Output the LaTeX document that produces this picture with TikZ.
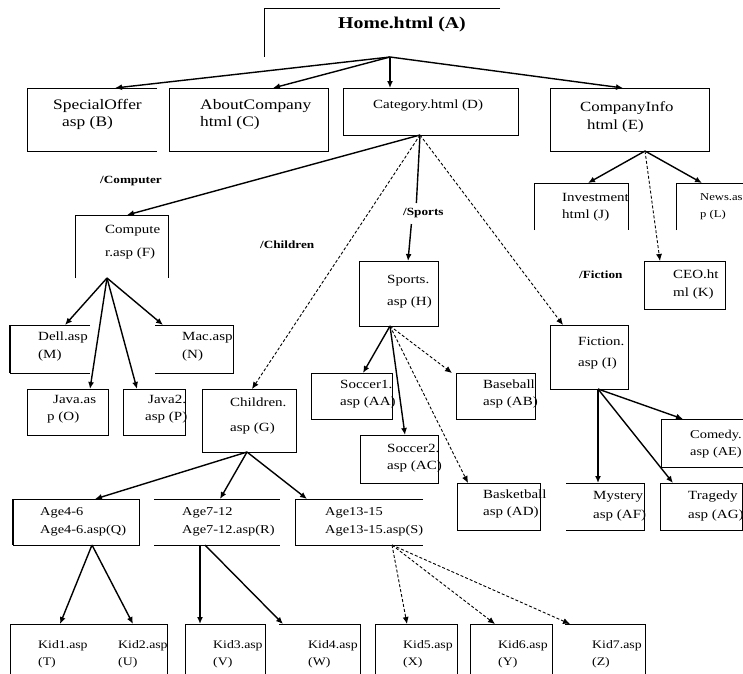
\documentclass[tikz,border=0pt]{standalone}
\usepackage{fontspec}
\setmainfont{Liberation Serif}[FakeStretch=1.2]
\usetikzlibrary{arrows.meta}
\begin{document}
\begin{tikzpicture}[x=1pt,y=-1pt,
 box/.style={draw, line width=0.9pt, inner sep=0pt, outer sep=0pt, anchor=north west},
 obox/.style={inner sep=0pt, outer sep=0pt, anchor=north west},
 brd/.style={line width=0.9pt},
 edg/.style={line width=1.4pt, -{Latex[length=7pt,width=6pt]}},
 dedg/.style={line width=0.9pt, densely dashed, -{Latex[length=7pt,width=6pt]}},
 txt/.style={inner sep=0pt, anchor=north west, align=left, font=\fontsize{12.5}{17}\selectfont},
 btxt/.style={txt, font=\fontsize{14.5}{17}\selectfont},
 atxt/.style={txt, font=\fontsize{12}{18}\selectfont},
 ktxt/.style={txt, font=\fontsize{11.5}{17}\selectfont},
 lbl/.style={inner sep=0pt, anchor=west, font=\bfseries\fontsize{11}{12}\selectfont}]
\useasboundingbox (0,0) rectangle (743,673);
% ---------- boxes ----------
\node[obox, minimum width=236pt, minimum height=49pt] (A) at (264,8) {};
\draw[brd] (A.north east) -- (A.north west) -- (A.south west);
\node[obox, minimum width=130pt, minimum height=63pt] (B) at (27,88) {};
\draw[brd] (B.north east) -- (B.north west) -- (B.south west) -- (B.south east);
\node[box, minimum width=159pt, minimum height=63pt] (C) at (169,88) {};
\node[box, minimum width=175pt, minimum height=47pt] (D) at (343,88) {};
\node[box, minimum width=159pt, minimum height=63pt] (E) at (550,88) {};
\node[obox, minimum width=93pt, minimum height=63pt] (F) at (75,215) {};
\draw[brd] (F.south west) -- (F.north west) -- (F.north east) -- (F.south east);
\node[obox, minimum width=94pt, minimum height=47pt] (J) at (534,183) {};
\draw[brd] (J.south west) -- (J.north west) -- (J.north east) -- (J.south east);
\node[obox, minimum width=74pt, minimum height=47pt] (L) at (676,183) {};
\draw[brd] (L.south west) -- (L.north west) -- (L.north east);
\node[box, minimum width=81pt, minimum height=48pt] (K) at (644,261) {};
\node[box, minimum width=79pt, minimum height=65pt] (H) at (359,261) {};
\node[obox, minimum width=80pt, minimum height=48pt] (M) at (10,325) {};
\draw[brd] (M.north east) -- (M.north west) -- (M.south west) -- (M.south east);
\draw[line width=1.6pt] (M.north west) -- (M.south west);
\node[obox, minimum width=78pt, minimum height=48pt] (N) at (155,325) {};
\draw[brd] (N.north west) -- (N.north east) -- (N.south east) -- (N.south west);
\node[box, minimum width=81pt, minimum height=46pt] (O) at (27,389) {};
\node[box, minimum width=62pt, minimum height=46pt] (P) at (123,389) {};
\node[box, minimum width=94pt, minimum height=63pt] (G) at (202,389) {};
\node[box, minimum width=81pt, minimum height=46pt] (AA) at (311,373) {};
\node[box, minimum width=79pt, minimum height=46pt] (AB) at (456,373) {};
\node[box, minimum width=78pt, minimum height=48pt] (AC) at (360,435) {};
\node[box, minimum width=83pt, minimum height=47pt] (AD) at (457,483) {};
\node[box, minimum width=78pt, minimum height=64pt] (I) at (550,325) {};
\node[box, minimum width=84pt, minimum height=48pt] (AE) at (661,419) {};
\node[obox, minimum width=78pt, minimum height=47pt] (AF) at (566,483) {};
\draw[brd] (AF.north west) -- (AF.north east) -- (AF.south east) -- (AF.south west);
\node[box, minimum width=82pt, minimum height=47pt] (AG) at (660,483) {};
\node[box, minimum width=126pt, minimum height=46pt] (Q) at (13,499) {};
\draw[line width=1.6pt] (Q.north west) -- (Q.south west);
\node[obox, minimum width=126pt, minimum height=46pt] (R) at (154,499) {};
\draw[brd] (R.north west) -- (R.north east) (R.south west) -- (R.south east);
\node[obox, minimum width=128pt, minimum height=46pt] (S) at (295,499) {};
\draw[brd] (S.north east) -- (S.north west) -- (S.south west) -- (S.south east);
\node[obox, minimum width=157pt, minimum height=50pt] (TU) at (10,624) {};
\draw[brd] (TU.south west) -- (TU.north west) -- (TU.north east) -- (TU.south east);
\node[obox, minimum width=80pt, minimum height=50pt] (V) at (185,624) {};
\draw[brd] (V.south west) -- (V.north west) -- (V.north east) -- (V.south east);
\node[obox, minimum width=81pt, minimum height=50pt] (W) at (279,624) {};
\draw[brd] (W.north west) -- (W.north east) -- (W.south east);
\node[obox, minimum width=82pt, minimum height=50pt] (X) at (375,624) {};
\draw[brd] (X.south west) -- (X.north west) -- (X.north east) -- (X.south east);
\node[obox, minimum width=82pt, minimum height=50pt] (Y) at (470,624) {};
\draw[brd] (Y.south west) -- (Y.north west) -- (Y.north east) -- (Y.south east);
\node[obox, minimum width=80pt, minimum height=50pt] (Z) at (565,624) {};
\draw[brd] (Z.north west) -- (Z.north east) -- (Z.south east);
% ---------- texts ----------
\node[inner sep=0pt, anchor=north west, font=\bfseries\fontsize{16.5}{18}\selectfont] (At) at (338,17) {Home.html (A)};
\node[btxt] (Bt) at (53,99) {SpecialOffer\\\hspace*{9pt}asp (B)};
\node[btxt] (Ct) at (200,99) {AboutCompany\\html (C)};
\node[txt] (Dt) at (373,100) {Category.html (D)};
\node[btxt, font=\fontsize{14}{18}\selectfont] (Et) at (580,101) {CompanyInfo\\\hspace*{7pt}html (E)};
\node[txt, font=\fontsize{12.5}{23}\selectfont] (Ft) at (105,225) {Compute\\r.asp (F)};
\node[txt] (Jt) at (562,193) {Investment\\html (J)};
\node[txt, font=\fontsize{10.5}{17}\selectfont] (Lt) at (700,193) {News.as\\p (L)};
\node[txt, font=\fontsize{12.5}{18}\selectfont] (Kt) at (673,270) {CEO.ht\\ml (K)};
\node[txt, font=\fontsize{12.5}{22}\selectfont] (Ht) at (387,275) {Sports.\\asp (H)};
\node[txt, font=\fontsize{12.5}{18}\selectfont] (Mt) at (38,332) {Dell.asp\\(M)};
\node[txt, font=\fontsize{12.5}{18}\selectfont] (Nt) at (182,332) {Mac.asp\\(N)};
\node[txt] (Ot) at (53,395) {Java.as\\\hspace*{-6pt}p (O)};
\node[txt] (Pt) at (148,395) {Java2.\\\hspace*{-3pt}asp (P)};
\node[txt, font=\fontsize{12.5}{25}\selectfont] (Gt) at (230,398) {Children.\\asp (G)};
\node[txt] (AAt) at (340,380) {Soccer1.\\asp (AA)};
\node[txt] (ABt) at (483,380) {Baseball\\asp (AB)};
\node[txt] (ACt) at (387,444) {Soccer2.\\asp (AC)};
\node[txt] (ADt) at (483,490) {Basketball\\asp (AD)};
\node[txt, font=\fontsize{12.5}{21}\selectfont] (It) at (578,337) {Fiction.\\asp (I)};
\node[txt, font=\fontsize{12}{17}\selectfont] (AEt) at (690,430) {Comedy.\\asp (AE)};
\node[txt, font=\fontsize{12.5}{19}\selectfont] (AFt) at (593,491) {Mystery\\asp (AF)};
\node[txt, font=\fontsize{12.5}{19}\selectfont] (AGt) at (688,491) {Tragedy\\asp (AG)};
\node[atxt] (Qt) at (40,507) {Age4-6\\Age4-6.asp(Q)};
\node[atxt] (Rt) at (182,507) {Age7-12\\Age7-12.asp(R)};
\node[atxt] (St) at (325,507) {Age13-15\\Age13-15.asp(S)};
\node[ktxt] (T) at (38,640) {Kid1.asp\\(T)};
\node[ktxt] (U) at (118,640) {Kid2.asp\\(U)};
\node[ktxt] (Vt) at (213,640) {Kid3.asp\\(V)};
\node[ktxt] (Wt) at (308,640) {Kid4.asp\\(W)};
\node[ktxt] (Xt) at (403,640) {Kid5.asp\\(X)};
\node[ktxt] (Yt) at (498,640) {Kid6.asp\\(Y)};
\node[ktxt] (Zt) at (592,640) {Kid7.asp\\(Z)};
% ---------- path labels ----------
\node[lbl] (CompL) at (100,181) {/Computer};
\node[lbl] (ChilL) at (260,245) {/Children};
\node[lbl] (SpL) at (403,213) {/Sports};
\node[lbl] (FicL) at (579,275) {/Fiction};
% ---------- source points ----------
\coordinate (Ao) at ([xshift=126pt]A.south west);
\coordinate (Do) at ([xshift=77pt]D.south west);
\coordinate (Eo) at ([xshift=95pt]E.south west);
\coordinate (Fo) at ([xshift=32pt]F.south west);
\coordinate (Ho) at ([xshift=31pt]H.south west);
\coordinate (Io) at ([xshift=48pt]I.south west);
\coordinate (Go) at ([xshift=45pt]G.south west);
\coordinate (Qo) at ([xshift=79pt]Q.south west);
\coordinate (Ro) at ([xshift=46pt]R.south west);
\coordinate (So) at ([xshift=97pt]S.south west);
% ---------- connectors ----------
\draw[edg] (Ao) -- ([xshift=88pt]B.north west);
\draw[edg] (Ao) -- ([xshift=104pt]C.north west);
\draw[edg] (Ao) -- ([xshift=47pt]D.north west);
\draw[edg] (Ao) -- ([xshift=73pt]E.north west);
\draw[edg] (Do) -- ([xshift=52pt]F.north west);
\draw[dedg] (Do) -- ([xshift=50pt]G.north west);
\draw[line width=1.4pt] (Do) -- ([xshift=-7pt,yshift=5pt]SpL.north);
\draw[edg] ([xshift=-12pt,yshift=-6pt]SpL.south) -- ([xshift=49pt]H.north west);
\draw[dedg] (Do) -- ([xshift=13pt]I.north west);
\draw[edg] (Eo) -- ([xshift=54pt]J.north west);
\draw[dedg] (Eo) -- ([xshift=16pt]K.north west);
\draw[edg] (Eo) -- ([xshift=26pt]L.north west);
\draw[edg] (Fo) -- ([xshift=55pt]M.north west);
\draw[edg] (Fo) -- ([xshift=63pt]O.north west);
\draw[edg] (Fo) -- ([xshift=14pt]P.north west);
\draw[edg] (Fo) -- ([xshift=8pt]N.north west);
\draw[edg] (Ho) -- ([xshift=52pt]AA.north west);
\draw[edg] (Ho) -- ([xshift=45pt]AC.north west);
\draw[dedg] (Ho) -- ([xshift=-4pt]AB.north west);
\draw[dedg] (Ho) -- ([xshift=11pt]AD.north west);
\draw[edg] (Io) -- ([xshift=22pt]AE.north west);
\draw[edg] (Io) -- ([xshift=32pt]AF.north west);
\draw[edg] (Io) -- ([xshift=13pt]AG.north west);
\draw[edg] (Go) -- ([xshift=82pt]Q.north west);
\draw[edg] (Go) -- ([xshift=66pt]R.north west);
\draw[edg] (Go) -- ([xshift=12pt]S.north west);
\draw[edg] (Qo) -- ([xshift=50pt]TU.north west);
\draw[edg] (Qo) -- ([xshift=123pt]TU.north west);
\draw[edg] (Ro) -- ([xshift=15pt]V.north west);
\draw[edg] ([xshift=5pt]Ro) -- ([xshift=4pt]W.north west);
\draw[dedg] (So) -- ([xshift=32pt]X.north west);
\draw[dedg] (So) -- ([xshift=25pt]Y.north west);
\draw[dedg] (So) -- ([xshift=5pt]Z.north west);
\end{tikzpicture}
\end{document}
